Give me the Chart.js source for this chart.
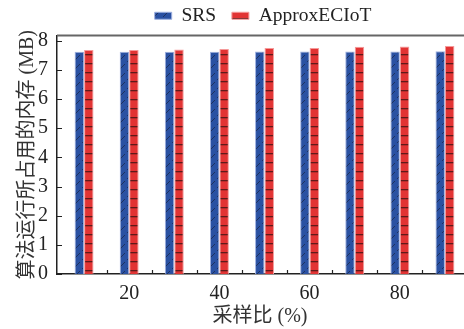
<!DOCTYPE html>
<html>
<head>
<meta charset="utf-8">
<script src="https://cdn.jsdelivr.net/npm/chart.js@4.4.1/dist/chart.umd.min.js"></script>
<style>
  html, body { margin: 0; padding: 0; background: #fff; }
  #wrap { width: 464px; height: 329px; }
</style>
</head>
<body>
<div id="wrap"><canvas id="memChart" width="464" height="329"></canvas></div>
<script>
// sampling ratio (%) and memory used (MB)
const ratios = [10, 20, 30, 40, 50, 60, 70, 80, 90];
const srsMem = [7.62, 7.62, 7.62, 7.62, 7.63, 7.63, 7.63, 7.63, 7.64];
const approxMem = [7.68, 7.68, 7.70, 7.72, 7.75, 7.75, 7.79, 7.80, 7.82];
const xTickLabels = [20, 40, 60, 80];
const xMinorTicks = [15, 25, 35, 45, 55, 65, 75, 85];
const yTickLabels = [0, 1, 2, 3, 4, 5, 6, 7, 8];

const serif = 'Liberation Serif, "Noto Sans CJK SC", serif';

// hatch fills
function makePattern(base, draw) {
    const c = document.createElement('canvas');
    c.width = 9; c.height = 9;
    const g = c.getContext('2d');
    g.fillStyle = base;
    g.fillRect(0, 0, 9, 9);
    draw(g);
    return g.createPattern(c, 'repeat');
}
const ctx = document.getElementById('memChart').getContext('2d');
const bluePattern = makePattern('#2a51a2', g => {
    g.strokeStyle = '#1a2440';
    g.lineWidth = 0.7;
    g.beginPath();
    g.moveTo(1, 8); g.lineTo(8, 1);
    g.stroke();
});
const redPattern = makePattern('#e23434', g => {
    g.fillStyle = '#5e1a1a';
    g.fillRect(0, 0, 9, 1.3);
});

// legend sits centred over the plot, not the whole canvas
const shiftLegend = {
    id: 'shiftLegend',
    afterLayout(chart) {
        chart.legend.left += 63;
    }
};

// inward tick marks + top frame line
const frame = {
    id: 'frame',
    afterDraw(chart) {
        const c = chart.ctx, a = chart.chartArea;
        const xs = chart.scales.x, ys = chart.scales.y;
        c.save();
        c.strokeStyle = '#222';
        c.lineWidth = 1.2;
        c.beginPath();
        xMinorTicks.forEach(v => {
            const px = Math.round(xs.getPixelForValue(v)) + 0.5;
            c.moveTo(px, a.bottom); c.lineTo(px, a.bottom - 4);
        });
        yTickLabels.forEach(v => {
            const py = Math.round(ys.getPixelForValue(v)) + 0.5;
            c.moveTo(a.left, py); c.lineTo(a.left + 5, py);
        });
        c.stroke();
        c.strokeStyle = '#666';
        c.lineWidth = 2.2;
        c.beginPath();
        c.moveTo(a.left, a.top); c.lineTo(a.right + 2, a.top);
        c.stroke();
        c.restore();
    }
};

new Chart(ctx, {
    type: 'bar',
    data: {
        datasets: [{
            label: 'SRS  ',
            data: ratios.map((r, i) => ({ x: r, y: srsMem[i] })),
            backgroundColor: bluePattern,
            borderColor: '#9fb1e0',
            borderWidth: 1
        }, {
            label: 'ApproxECIoT',
            data: ratios.map((r, i) => ({ x: r, y: approxMem[i] })),
            backgroundColor: redPattern,
            borderColor: '#f59a9a',
            borderWidth: 1
        }]
    },
    options: {
        responsive: false,
        animation: false,
        layout: { padding: { top: 0, right: 1, left: 0, bottom: 0 } },
        datasets: { bar: { categoryPercentage: 0.42, barPercentage: 1.0 } },
        plugins: {
            legend: {
                labels: {
                    boxWidth: 17,
                    boxHeight: 7,
                    padding: 6,
                    color: '#222',
                    font: { family: serif, size: 19.5 }
                }
            },
            tooltip: { enabled: false }
        },
        scales: {
            x: {
                type: 'linear',
                offset: false,
                min: 4,
                max: 94,
                afterBuildTicks: s => { s.ticks = xTickLabels.map(v => ({ value: v })); },
                afterFit: s => { s.height = 55; },
                grid: { display: false, drawTicks: false },
                border: { color: '#222', width: 1.5 },
                ticks: { color: '#222', padding: 8, maxRotation: 0, font: { family: serif, size: 20 } },
                title: {
                    display: true,
                    text: '采样比 (%)',
                    color: '#333',
                    padding: { top: 2, bottom: 0 },
                    font: { family: serif, size: 20 }
                }
            },
            y: {
                min: 0,
                max: 8.18,
                afterBuildTicks: s => { s.ticks = yTickLabels.map(v => ({ value: v })); },
                afterFit: s => { s.width = 57; },
                grid: { display: false, drawTicks: false },
                border: { color: '#222', width: 1.5 },
                ticks: { color: '#222', padding: 9, font: { family: serif, size: 20 } },
                title: {
                    display: true,
                    text: '算法运行所占用的内存 (MB)',
                    color: '#333',
                    padding: { top: 16, bottom: 0 },
                    font: { family: serif, size: 20 }
                }
            }
        }
    },
    plugins: [shiftLegend, frame]
});
</script>
</body>
</html>
